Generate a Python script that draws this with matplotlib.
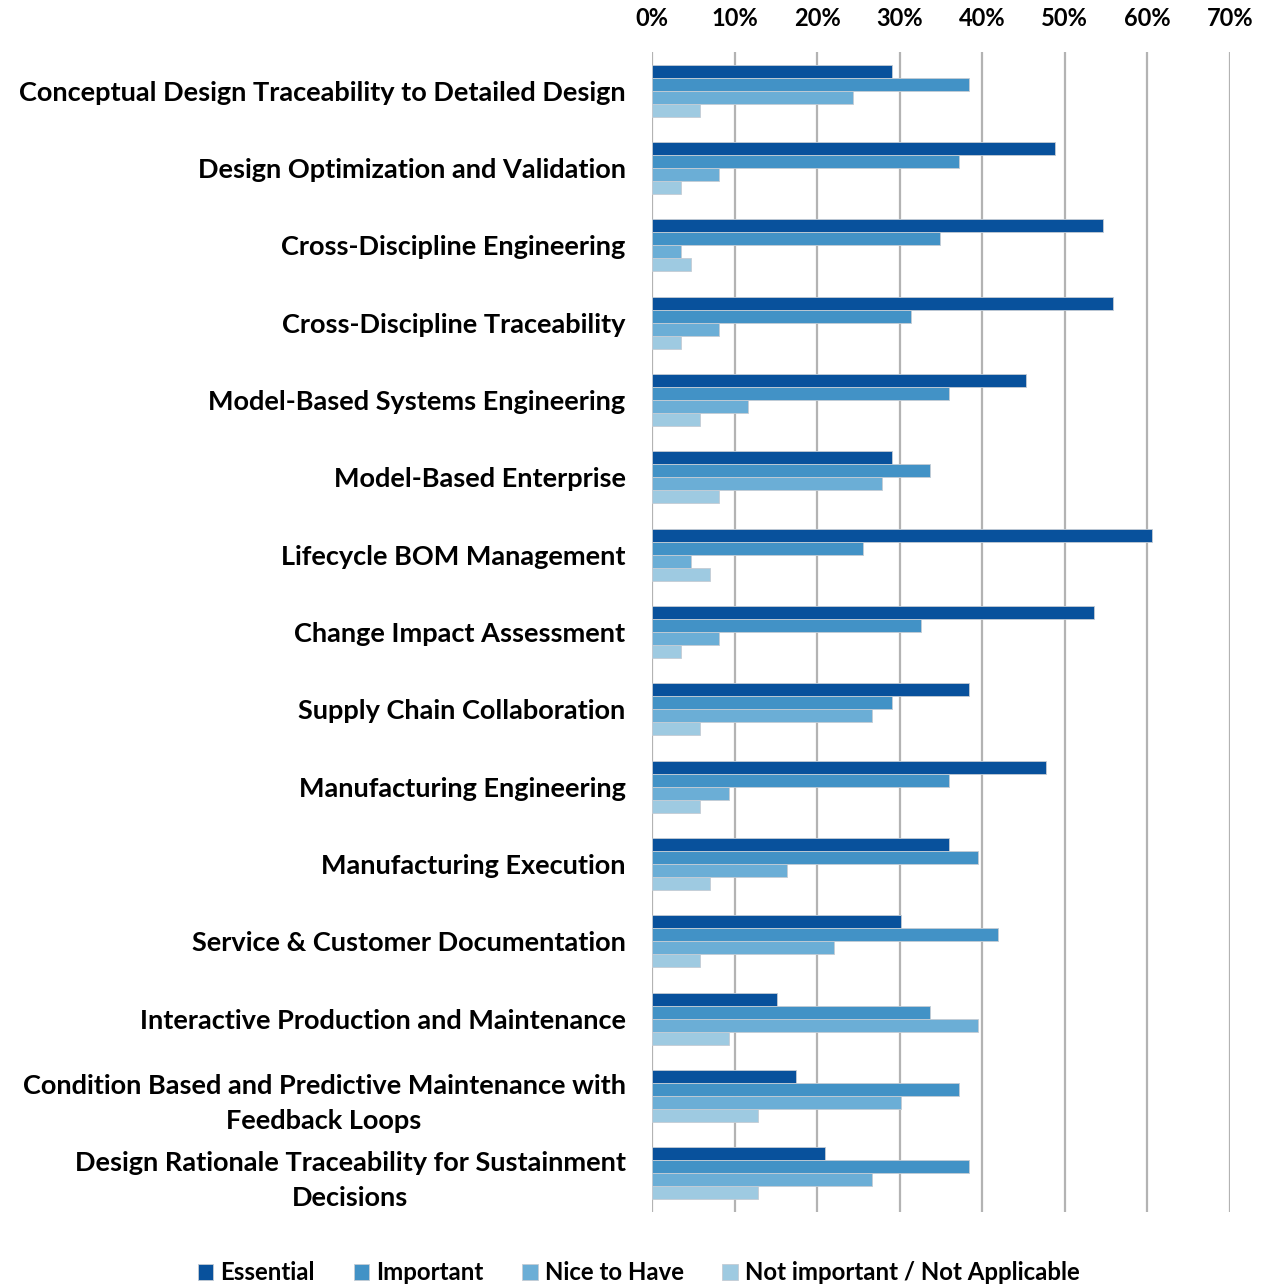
import matplotlib
matplotlib.use('Agg')
import matplotlib.pyplot as plt
import numpy as np
from matplotlib.patches import Patch

plt.rcParams['font.family'] = ['Lato', 'DejaVu Sans']
plt.rcParams['font.weight'] = 'bold'

# survey categories, top to bottom
categories = [
    'Conceptual Design Traceability to Detailed Design',
    'Design Optimization and Validation',
    'Cross-Discipline Engineering',
    'Cross-Discipline Traceability',
    'Model-Based Systems Engineering',
    'Model-Based Enterprise',
    'Lifecycle BOM Management',
    'Change Impact Assessment',
    'Supply Chain Collaboration',
    'Manufacturing Engineering',
    'Manufacturing Execution',
    'Service & Customer Documentation',
    'Interactive Production and Maintenance',
    'Condition Based and Predictive Maintenance with\nFeedback Loops',
    'Design Rationale Traceability for Sustainment\nDecisions',
]

# percentages of respondents per rating
essential = [29.1, 48.8, 54.6, 55.8, 45.3, 29.1, 60.5, 53.5, 38.4, 47.7, 36.0, 30.2, 15.1, 17.4, 20.9]
important = [38.4, 37.2, 34.9, 31.4, 36.0, 33.7, 25.6, 32.6, 29.1, 36.0, 39.5, 41.9, 33.7, 37.2, 38.4]
nice_to_have = [24.4, 8.1, 3.5, 8.1, 11.6, 27.9, 4.7, 8.1, 26.7, 9.3, 16.3, 22.1, 39.5, 30.2, 26.7]
not_important = [5.8, 3.5, 4.7, 3.5, 5.8, 8.1, 7.0, 3.5, 5.8, 5.8, 7.0, 5.8, 9.3, 12.8, 12.8]

series = [
    ('Essential', essential, '#08519c'),
    ('Important', important, '#4292c6'),
    ('Nice to Have', nice_to_have, '#6baed6'),
    ('Not important / Not Applicable', not_important, '#9ecae1'),
]

fig = plt.figure(figsize=(12.65, 12.84), dpi=100)
ax = fig.add_axes([0.5154, 0.056, 0.4569, 0.9035])

y = np.arange(len(categories))
h = 0.168
for i, (name, vals, col) in enumerate(series):
    ax.barh(y - 1.5 * h + i * h, vals, height=h, color=col,
            edgecolor='#c4ccd4', linewidth=0.6, label=name, zorder=3)

ax.set_xlim(0, 70)
ax.set_ylim(14.5, -0.5)
ax.set_xticks(np.arange(0, 71, 10))
ax.set_xticklabels([f'{v}%' for v in range(0, 71, 10)])
ax.xaxis.tick_top()
ax.tick_params(axis='x', length=0, pad=16, labelsize=17)
ax.grid(axis='x', color='#b3b3b3', linewidth=1.6, zorder=0)
ax.set_yticks(y)
ax.set_yticklabels(categories, fontsize=19.5, ha='right', multialignment='center',
                   linespacing=1.55)
ax.tick_params(axis='y', length=0, pad=19)
for s in ax.spines.values():
    s.set_visible(False)

handles = [Patch(facecolor=c, edgecolor='#c4ccd4', linewidth=0.6, label=n) for n, _, c in series]
fig.legend(handles=handles, loc='lower center', bbox_to_anchor=(0.505, -0.017), ncol=4,
           frameon=False, fontsize=17.3, handlelength=0.65, handleheight=0.65,
           handletextpad=0.3, columnspacing=1.6)

plt.savefig('out.png', dpi=100)
